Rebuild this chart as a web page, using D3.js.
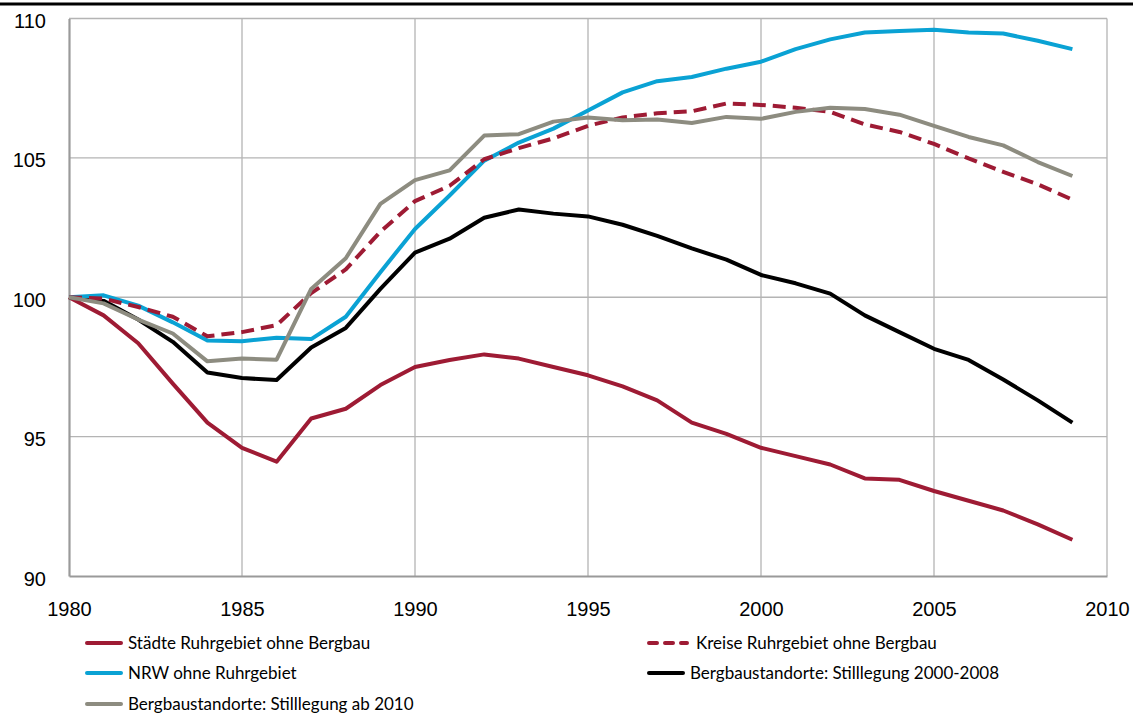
<!DOCTYPE html>
<html>
<head>
<meta charset="utf-8" />
<style>
    body { margin: 0; background: #fff; }
    svg { display: block; font-family: Lato, "Open Sans", sans-serif; }
    .tick text { font-size: 20px; fill: #000; }
    .legend text { font-size: 17px; }
</style>
</head>
<body>
<div id="chart"></div>
<script src="https://d3js.org/d3.v7.min.js"></script>
<script>
    var years = d3.range(1980, 2010);

    var staedte = [100, 99.35, 98.35, 96.9, 95.5, 94.6, 94.1, 95.65, 96.0, 96.85,
        97.5, 97.75, 97.95, 97.8, 97.5, 97.2, 96.8, 96.3, 95.5, 95.1,
        94.6, 94.3, 94.0, 93.5, 93.45, 93.05, 92.7, 92.35, 91.85, 91.3];
    var kreise = [100, 99.95, 99.65, 99.3, 98.6, 98.75, 99.0, 100.15, 101.0, 102.35,
        103.45, 104.0, 104.95, 105.35, 105.7, 106.15, 106.45, 106.6, 106.67, 106.95,
        106.9, 106.8, 106.65, 106.2, 105.93, 105.5, 104.98, 104.5, 104.05, 103.5];
    var nrw = [100, 100.07, 99.7, 99.1, 98.45, 98.42, 98.55, 98.5, 99.3, 100.9,
        102.45, 103.65, 104.9, 105.55, 106.05, 106.7, 107.35, 107.75, 107.9, 108.2,
        108.45, 108.9, 109.25, 109.5, 109.55, 109.6, 109.5, 109.46, 109.2, 108.9];
    var berg2000 = [100, 99.87, 99.2, 98.4, 97.3, 97.1, 97.03, 98.2, 98.9, 100.3,
        101.6, 102.1, 102.85, 103.15, 103.0, 102.9, 102.6, 102.2, 101.75, 101.35,
        100.8, 100.5, 100.13, 99.35, 98.75, 98.15, 97.75, 97.05, 96.3, 95.5];
    var berg2010 = [100, 99.78, 99.2, 98.7, 97.7, 97.8, 97.76, 100.3, 101.4, 103.35,
        104.2, 104.55, 105.8, 105.85, 106.3, 106.45, 106.35, 106.38, 106.25, 106.47,
        106.4, 106.65, 106.8, 106.75, 106.55, 106.15, 105.75, 105.45, 104.85, 104.35];

    var xTicks = [1980, 1985, 1990, 1995, 2000, 2005, 2010];
    var yTicks = [90, 95, 100, 105, 110];

    var series = [
        {name: 'Städte Ruhrgebiet ohne Bergbau', values: staedte, color: '#9e1b34', dash: null},
        {name: 'Kreise Ruhrgebiet ohne Bergbau', values: kreise, color: '#9e1b34', dash: '13,7'},
        {name: 'NRW ohne Ruhrgebiet', values: nrw, color: '#0aa2d4', dash: null},
        {name: 'Bergbaustandorte: Stilllegung 2000-2008', values: berg2000, color: '#000000', dash: null},
        {name: 'Bergbaustandorte: Stilllegung ab 2010', values: berg2010, color: '#8d8c80', dash: null}
    ];

    var width = 1133, height = 715;
    var margin = {top: 18.5, right: 26, bottom: 139, left: 69};
    var w = width - margin.left - margin.right;
    var h = height - margin.top - margin.bottom;

    var svg = d3.select('#chart').append('svg')
        .attr('width', width)
        .attr('height', height);

    // black rule at the very top
    svg.append('line')
        .attr('x1', 0).attr('x2', width)
        .attr('y1', 4).attr('y2', 4)
        .attr('stroke', '#000').attr('stroke-width', 3);

    var g = svg.append('g')
        .attr('transform', 'translate(' + margin.left + ',' + margin.top + ')');

    var x = d3.scaleLinear().domain([1980, 2010]).range([0, w]);
    var y = d3.scaleLinear().domain([90, 110]).range([h, 0]);

    // grid
    g.append('g').selectAll('line')
        .data(xTicks.slice(1))
        .enter().append('line')
        .attr('x1', x).attr('x2', x)
        .attr('y1', 0).attr('y2', h)
        .attr('stroke', '#b4b4b4').attr('stroke-width', 1.3);

    g.append('g').selectAll('line')
        .data(yTicks.slice(1))
        .enter().append('line')
        .attr('x1', 0).attr('x2', w)
        .attr('y1', y).attr('y2', y)
        .attr('stroke', '#b4b4b4').attr('stroke-width', 1.3);

    // axes
    var xAxis = g.append('g')
        .attr('transform', 'translate(0,' + h + ')')
        .call(d3.axisBottom(x).tickValues(xTicks).tickFormat(d3.format('d')).tickSize(0).tickPadding(26));
    xAxis.select('.domain').attr('stroke', '#9a9a9a').attr('stroke-width', 2.2);

    var yAxis = g.append('g')
        .call(d3.axisLeft(y).tickValues(yTicks).tickSize(0).tickPadding(23));
    yAxis.select('.domain').attr('stroke', '#9a9a9a').attr('stroke-width', 2.2);
    yAxis.selectAll('.tick text').attr('dy', '0.45em');

    var line = d3.line()
        .x(function(d, i) { return x(years[i]); })
        .y(function(d) { return y(d); });

    var drawOrder = [0, 3, 2, 1, 4];
    drawOrder.forEach(function(k) {
        var s = series[k];
        g.append('path')
            .datum(s.values)
            .attr('d', line)
            .attr('fill', 'none')
            .attr('stroke', s.color)
            .attr('stroke-width', 4)
            .attr('stroke-linejoin', 'round')
            .attr('stroke-dasharray', s.dash);
    });

    // legend
    var legendPos = [
        {x: 87, y: 643}, {x: 649, y: 643},
        {x: 87, y: 673}, {x: 649, y: 673},
        {x: 87, y: 704}
    ];

    var legend = svg.selectAll('.legend')
        .data(series)
        .enter().append('g')
        .attr('class', 'legend')
        .attr('transform', function(d, i) {
            return 'translate(' + legendPos[i].x + ',' + legendPos[i].y + ')';
        });

    legend.append('line')
        .attr('x1', 0).attr('x2', function(d) { return d.dash ? 38 : 34; })
        .attr('y1', 0).attr('y2', 0)
        .attr('stroke', function(d) { return d.color; })
        .attr('stroke-width', 4)
        .attr('stroke-linecap', 'round')
        .attr('stroke-dasharray', function(d) { return d.dash ? '8,8' : null; });

    legend.append('text')
        .attr('x', function(d) { return d.dash ? 47 : 41; })
        .attr('y', 0)
        .attr('dy', '0.35em')
        .text(function(d) { return d.name; });
</script>
</body>
</html>
